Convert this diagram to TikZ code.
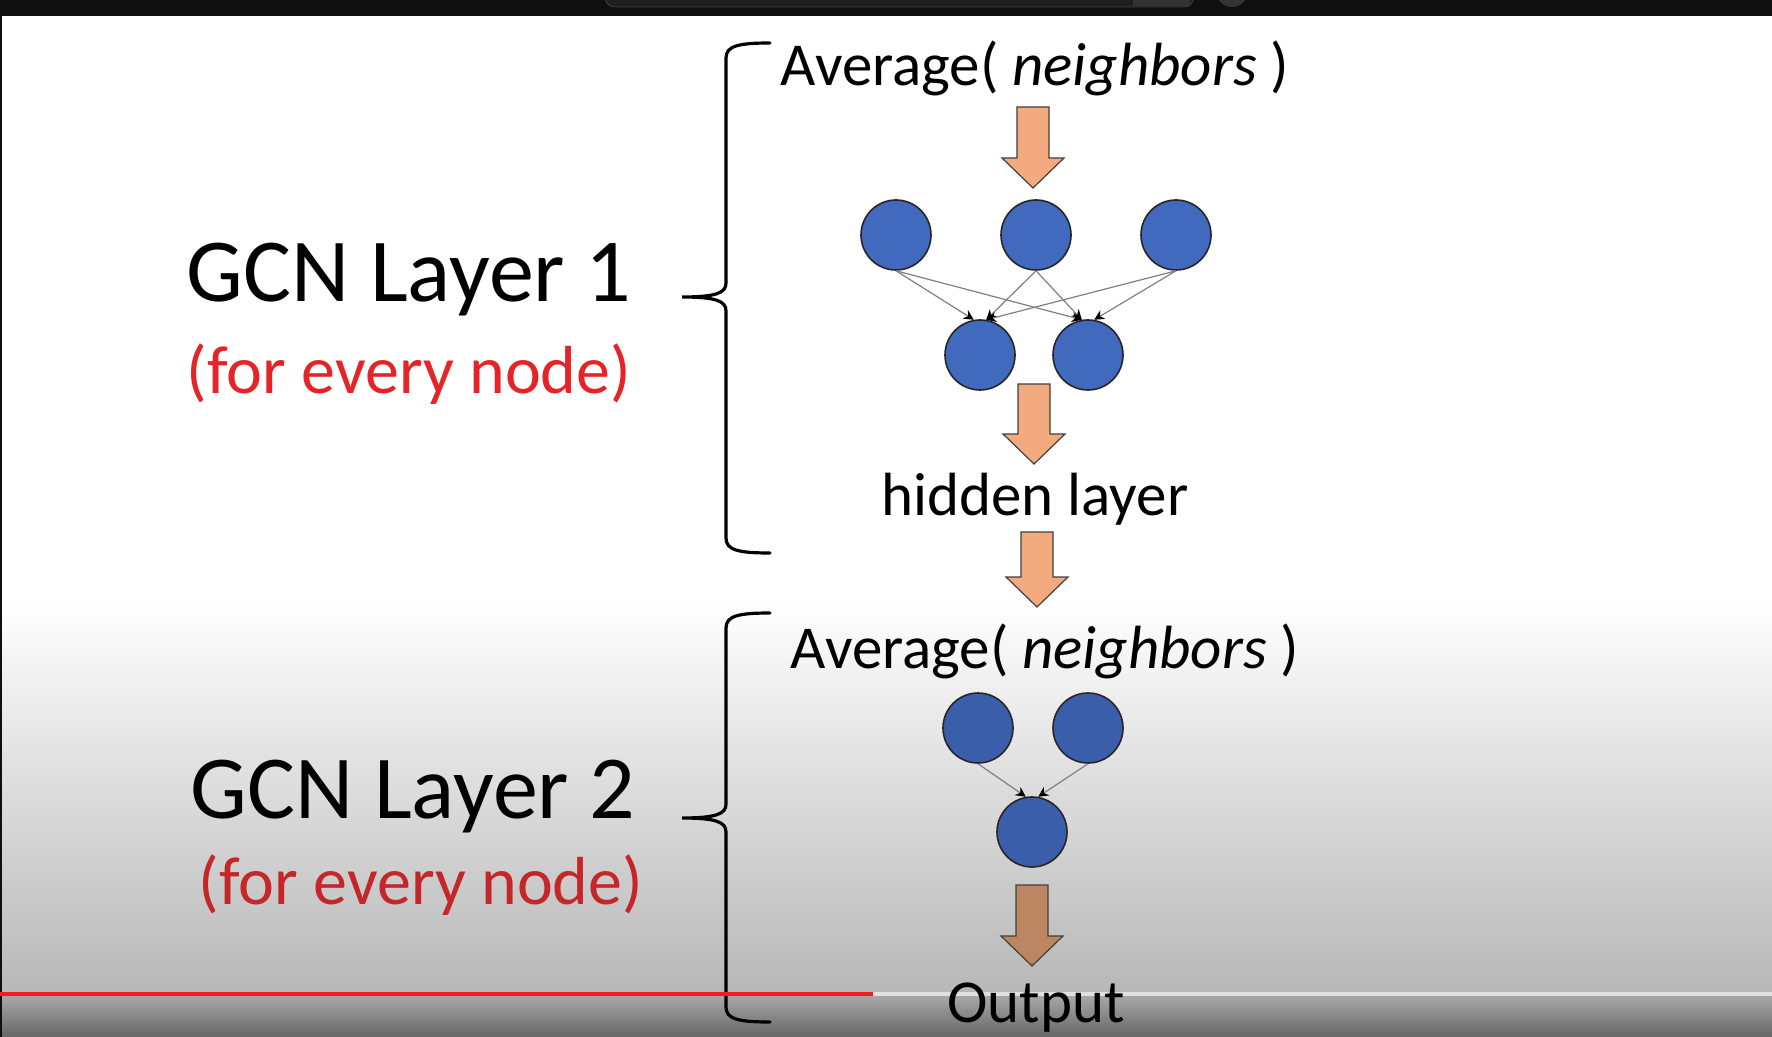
\documentclass[tikz,border=0pt]{standalone}
\usepackage{fontspec}
\setmainfont{Carlito}
\usetikzlibrary{arrows.meta,positioning}
\definecolor{gcnblue}{HTML}{4169BE}
\definecolor{gcnbluedk}{HTML}{3A5EA9}
\definecolor{peach}{HTML}{F2AA7E}
\definecolor{peachdk}{HTML}{BD8662}
\definecolor{slidered}{HTML}{E52427}
\definecolor{slidereddk}{HTML}{C42629}
\definecolor{ytblack}{HTML}{0F0F0F}
\definecolor{ytpill}{HTML}{1E1E1E}
\definecolor{ytred}{HTML}{F01E1E}

% block arrow: centre x, top y, tip y, fill
\newcommand{\fatarrow}[4]{%
  \filldraw[fill=#4,draw=black!75,line width=0.6pt,line join=miter]
    (#1-16,#2) -- (#1+16,#2) -- (#1+16,#3-30) -- (#1+31,#3-30) -- (#1,#3)
    -- (#1-31,#3-30) -- (#1-16,#3-30) -- cycle;}

% curly brace: top y, tip y, bottom y
\newcommand{\layerbrace}[3]{%
  \draw[line width=1.6pt,line cap=round]
    (770,#1) .. controls (738,#1) and (726,#1+3) .. (726,#1+15)
    -- (726,#2-14) .. controls (726,#2-4) and (716,#2) .. (682,#2)
    .. controls (716,#2) and (726,#2+4) .. (726,#2+14)
    -- (726,#3-15) .. controls (726,#3-3) and (738,#3) .. (770,#3);}

\begin{document}
\begin{tikzpicture}[x=0.5pt,y=-0.5pt,
  neuron/.style={circle,draw=black!85,line width=0.8pt,fill=gcnblue,minimum size=35pt,inner sep=0pt},
  link/.style={draw=black!50,line width=0.6pt,-{Stealth[black,length=5pt,width=5pt]}},
  layertitle/.style={anchor=base,font=\fontsize{45}{54}\selectfont},
  layernote/.style={anchor=base,font=\fontsize{34}{40}\selectfont},
  slidetext/.style={anchor=base,font=\fontsize{30.5}{36}\selectfont}]
  \useasboundingbox (0,0) rectangle (1772,1037);
  \clip (0,0) rectangle (1772,1037);

  % Background and player bar
  \fill[white] (0,0) rectangle (1772,1037);
  \shade[top color=white,bottom color=black!28] (0,600) rectangle (1772,992);
  \shade[top color=black!32,bottom color=black!60] (0,992) rectangle (1772,1037);
  \fill[ytblack] (0,0) rectangle (1772,16);
  \fill[ytblack] (0,16) rectangle (2,1037);
  \filldraw[fill=ytpill,draw=black!75,rounded corners=5pt] (605,-20) rectangle (1194,7);
  \fill[black!80] (1133,-20) rectangle (1190,6);
  \fill[black!80] (1232,-9) circle [radius=16];

  % GCN Layer 1
  \node[layertitle] (title1) at (409,302) {GCN Layer 1};
  \node[layernote,text=slidered] (note1) at (409,394) {(for every node)};
  \layerbrace{43}{297}{553}
  \node[slidetext] (avg1) at (1035,86) {Average( \textit{neighbors} )};
  \fatarrow{1033}{107}{188}{peach}
  \node[neuron] (t1) at (896,235) {};
  \node[neuron] (t2) at (1036,235) {};
  \node[neuron] (t3) at (1176,235) {};
  \node[neuron] (m1) at (980,355) {};
  \node[neuron] (m2) at (1088,355) {};
  \draw[link] (t1.south) -- (m1.100);
  \draw[link] (t1.south) -- (m2.100);
  \draw[link] (t2.south) -- (m1.80);
  \draw[link] (t2.south) -- (m2.100);
  \draw[link] (t3.south) -- (m1.80);
  \draw[link] (t3.south) -- (m2.80);
  \fatarrow{1034}{384}{464}{peach}
  \node[slidetext] (hidden) at (1035,516) {hidden layer};
  \fatarrow{1037}{532}{607}{peach}

  % GCN Layer 2
  \node[layertitle] (title2) at (413,818) {GCN Layer 2};
  \node[layernote,text=slidereddk] (note2) at (421,904) {(for every node)};
  \layerbrace{613}{818}{1022}
  \node[slidetext] (avg2) at (1045,668) {Average( \textit{neighbors} )};
  \node[neuron,fill=gcnbluedk] (p1) at (978,728) {};
  \node[neuron,fill=gcnbluedk] (p2) at (1088,728) {};
  \node[neuron,fill=gcnbluedk] (q) at (1032,832) {};
  \draw[link] (p1.south) -- (q.100);
  \draw[link] (p2.south) -- (q.80);
  \fatarrow{1032}{885}{966}{peachdk}

  % progress bar
  \fill[ytred] (0,992) rectangle (873,996);
  \fill[black!12] (873,992) rectangle (1772,996);
  \node[slidetext] (output) at (1036,1022) {Output};
\end{tikzpicture}
\end{document}
